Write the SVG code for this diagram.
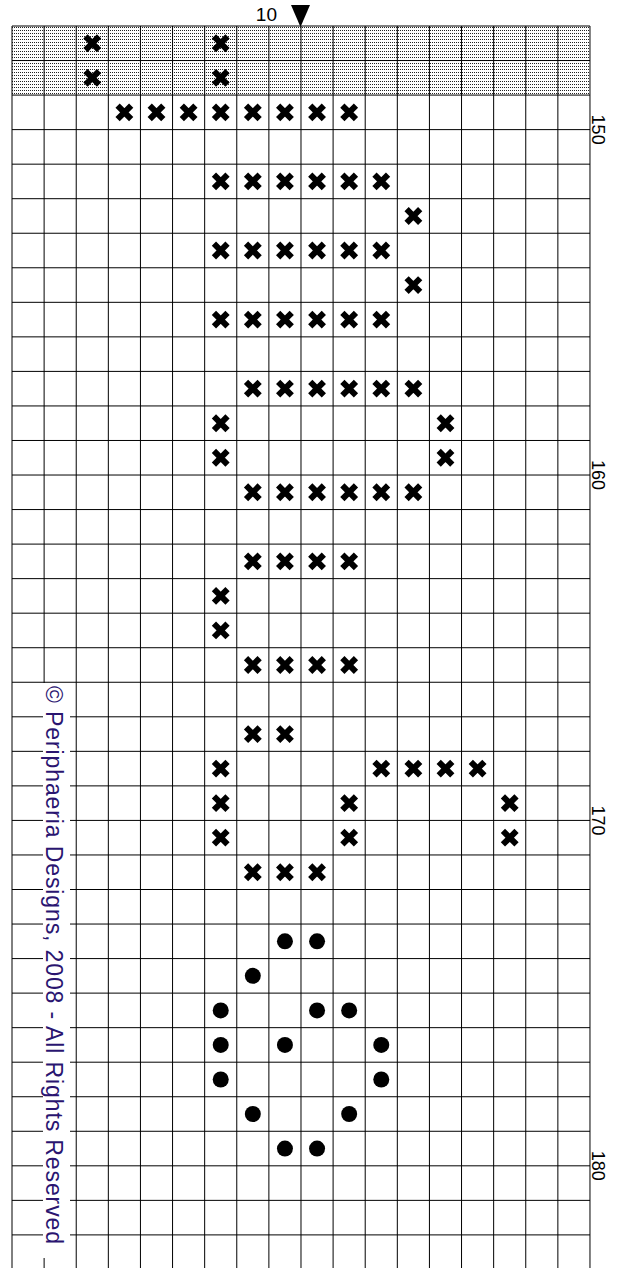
<svg xmlns="http://www.w3.org/2000/svg" xmlns:xlink="http://www.w3.org/1999/xlink" width="628" height="1268" viewBox="0 0 628 1268">
<style>
.grid{stroke:#000;stroke-width:1;fill:none}
.num{font-family:"Liberation Sans",Arial,sans-serif;font-size:18px;fill:#000}
.copy{font-family:"Liberation Sans",Arial,sans-serif;font-size:23px;fill:#2a1570}
.xm{stroke:#000;stroke-width:6;fill:none}
.dot{fill:#000}
</style>
<defs>
<pattern id="stip" patternUnits="userSpaceOnUse" width="2" height="3">
<rect x="0" y="0" width="1" height="1" fill="#222" shape-rendering="crispEdges"/>
</pattern>
<path id="x" class="xm" d="M-6.8,-6.8L6.8,6.8M6.8,-6.8L-6.8,6.8"/>
<circle id="d" class="dot" r="8"/>
</defs>
<rect width="628" height="1268" fill="#fff"/>
<g id="shaded">
<rect x="12" y="26" width="578" height="69.08" fill="url(#stip)"/>
</g>
<g id="grid" class="grid">
<path d="M12,26V1268M44.11,26V1268M76.22,26V1268M108.33,26V1268M140.44,26V1268M172.55,26V1268M204.66,26V1268M236.77,26V1268M268.88,26V1268M300.99,26V1268M333.1,26V1268M365.21,26V1268M397.32,26V1268M429.43,26V1268M461.54,26V1268M493.65,26V1268M525.76,26V1268M557.87,26V1268M589.98,26V1268"/>
<path d="M12,26H590M12,60.54H590M12,95.08H590M12,129.62H590M12,164.16H590M12,198.7H590M12,233.24H590M12,267.78H590M12,302.32H590M12,336.86H590M12,371.4H590M12,405.94H590M12,440.48H590M12,475.02H590M12,509.56H590M12,544.1H590M12,578.64H590M12,613.18H590M12,647.72H590M12,682.26H590M12,716.8H590M12,751.34H590M12,785.88H590M12,820.42H590M12,854.96H590M12,889.5H590M12,924.04H590M12,958.58H590M12,993.12H590M12,1027.66H590M12,1062.2H590M12,1096.74H590M12,1131.28H590M12,1165.82H590M12,1200.36H590M12,1234.9H590"/>
</g>
<g id="top-marker">
<text class="num" x="277" y="21" text-anchor="end" style="font-size:19px">10</text>
<polygon points="291,5 310,5 300.5,27" fill="#000"/>
</g>
<g id="row-labels" class="num">
<text transform="translate(592,129.62) rotate(90)" text-anchor="middle">150</text>
<text transform="translate(592,475.02) rotate(90)" text-anchor="middle">160</text>
<text transform="translate(592,820.42) rotate(90)" text-anchor="middle">170</text>
<text transform="translate(592,1165.82) rotate(90)" text-anchor="middle">180</text>
</g>
<g id="copyright">
<rect x="43" y="683" width="27" height="575" fill="#fff"/>
<text class="copy" transform="translate(46,686) rotate(90)" textLength="558" lengthAdjust="spacing">© Periphaeria Designs, 2008 - All Rights Reserved</text>
</g>
<g id="crosses">
<use href="#x" x="92.28" y="43.27"/><use href="#x" x="220.72" y="43.27"/>
<use href="#x" x="92.28" y="77.81"/><use href="#x" x="220.72" y="77.81"/>
<use href="#x" x="124.39" y="112.35"/><use href="#x" x="156.5" y="112.35"/><use href="#x" x="188.61" y="112.35"/><use href="#x" x="220.72" y="112.35"/><use href="#x" x="252.83" y="112.35"/><use href="#x" x="284.94" y="112.35"/><use href="#x" x="317.05" y="112.35"/><use href="#x" x="349.16" y="112.35"/>
<use href="#x" x="220.72" y="181.43"/><use href="#x" x="252.83" y="181.43"/><use href="#x" x="284.94" y="181.43"/><use href="#x" x="317.05" y="181.43"/><use href="#x" x="349.16" y="181.43"/><use href="#x" x="381.27" y="181.43"/>
<use href="#x" x="413.38" y="215.97"/>
<use href="#x" x="220.72" y="250.51"/><use href="#x" x="252.83" y="250.51"/><use href="#x" x="284.94" y="250.51"/><use href="#x" x="317.05" y="250.51"/><use href="#x" x="349.16" y="250.51"/><use href="#x" x="381.27" y="250.51"/>
<use href="#x" x="413.38" y="285.05"/>
<use href="#x" x="220.72" y="319.59"/><use href="#x" x="252.83" y="319.59"/><use href="#x" x="284.94" y="319.59"/><use href="#x" x="317.05" y="319.59"/><use href="#x" x="349.16" y="319.59"/><use href="#x" x="381.27" y="319.59"/>
<use href="#x" x="252.83" y="388.67"/><use href="#x" x="284.94" y="388.67"/><use href="#x" x="317.05" y="388.67"/><use href="#x" x="349.16" y="388.67"/><use href="#x" x="381.27" y="388.67"/><use href="#x" x="413.38" y="388.67"/>
<use href="#x" x="220.72" y="423.21"/><use href="#x" x="445.49" y="423.21"/>
<use href="#x" x="220.72" y="457.75"/><use href="#x" x="445.49" y="457.75"/>
<use href="#x" x="252.83" y="492.29"/><use href="#x" x="284.94" y="492.29"/><use href="#x" x="317.05" y="492.29"/><use href="#x" x="349.16" y="492.29"/><use href="#x" x="381.27" y="492.29"/><use href="#x" x="413.38" y="492.29"/>
<use href="#x" x="252.83" y="561.37"/><use href="#x" x="284.94" y="561.37"/><use href="#x" x="317.05" y="561.37"/><use href="#x" x="349.16" y="561.37"/>
<use href="#x" x="220.72" y="595.91"/>
<use href="#x" x="220.72" y="630.45"/>
<use href="#x" x="252.83" y="664.99"/><use href="#x" x="284.94" y="664.99"/><use href="#x" x="317.05" y="664.99"/><use href="#x" x="349.16" y="664.99"/>
<use href="#x" x="252.83" y="734.07"/><use href="#x" x="284.94" y="734.07"/>
<use href="#x" x="220.72" y="768.61"/><use href="#x" x="381.27" y="768.61"/><use href="#x" x="413.38" y="768.61"/><use href="#x" x="445.49" y="768.61"/><use href="#x" x="477.6" y="768.61"/>
<use href="#x" x="220.72" y="803.15"/><use href="#x" x="349.16" y="803.15"/><use href="#x" x="509.71" y="803.15"/>
<use href="#x" x="220.72" y="837.69"/><use href="#x" x="349.16" y="837.69"/><use href="#x" x="509.71" y="837.69"/>
<use href="#x" x="252.83" y="872.23"/><use href="#x" x="284.94" y="872.23"/><use href="#x" x="317.05" y="872.23"/>
</g>
<g id="dots">
<use href="#d" x="284.94" y="941.31"/><use href="#d" x="317.05" y="941.31"/>
<use href="#d" x="252.83" y="975.85"/>
<use href="#d" x="220.72" y="1010.39"/><use href="#d" x="317.05" y="1010.39"/><use href="#d" x="349.16" y="1010.39"/>
<use href="#d" x="220.72" y="1044.93"/><use href="#d" x="284.94" y="1044.93"/><use href="#d" x="381.27" y="1044.93"/>
<use href="#d" x="220.72" y="1079.47"/><use href="#d" x="381.27" y="1079.47"/>
<use href="#d" x="252.83" y="1114.01"/><use href="#d" x="349.16" y="1114.01"/>
<use href="#d" x="284.94" y="1148.55"/><use href="#d" x="317.05" y="1148.55"/>
</g>
</svg>
